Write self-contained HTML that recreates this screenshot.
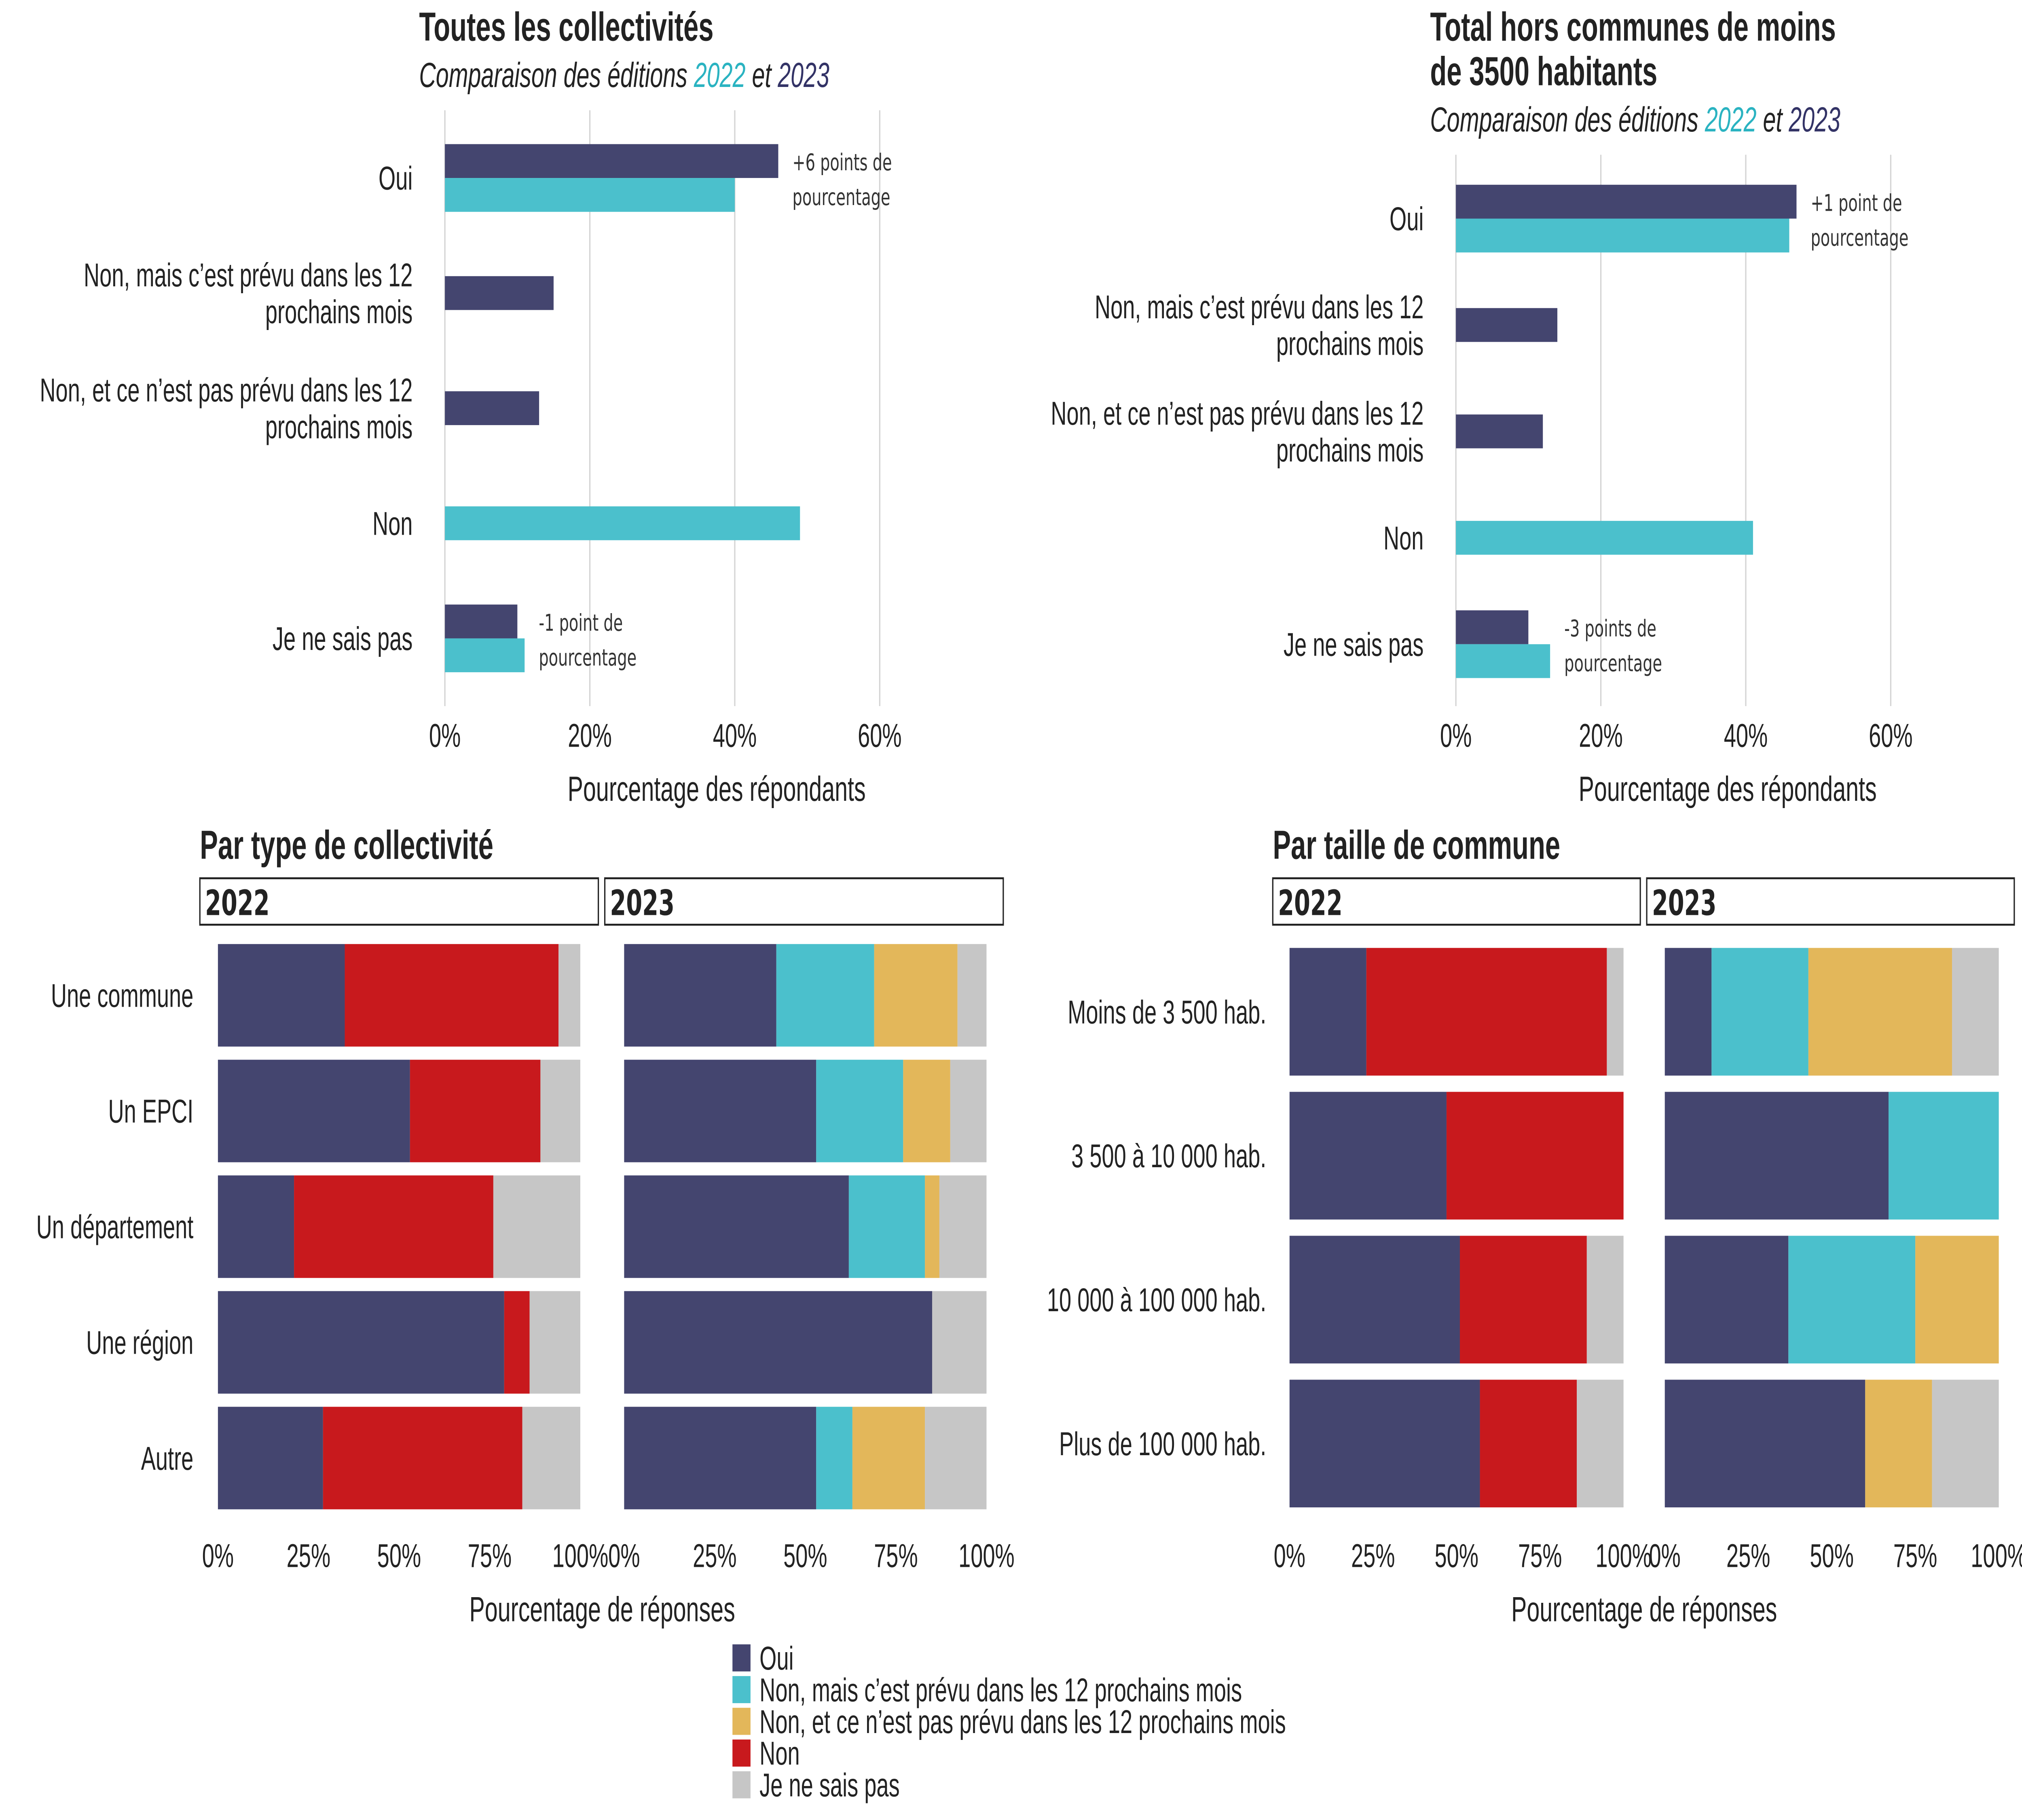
<!DOCTYPE html>
<html><head><meta charset="utf-8"><style>
html,body{margin:0;padding:0;background:#fff;width:100%;height:100%;overflow:hidden;}
svg{display:block;width:100vw;height:100vh;font-family:"Liberation Sans",sans-serif;}
</style></head><body>
<svg id="chart" viewBox="0 0 1568 940.8" preserveAspectRatio="none" xmlns="http://www.w3.org/2000/svg"></svg>
<script>
// ---------- DATA ----------
const dodgeCats = ["Oui", "Non, mais c\u2019est prévu dans les 12|prochains mois", "Non, et ce n\u2019est pas prévu dans les 12|prochains mois", "Non", "Je ne sais pas"];
const tl2023 = [46, 15, 13, null, 10];
const tl2022 = [40, null, null, 49, 11];
const tr2023 = [47, 14, 12, null, 10];
const tr2022 = [46, null, null, 41, 13];
const dodgeTicks = [0, 20, 40, 60];

const seriesNames = ["Oui", "Non, mais c\u2019est prévu dans les 12 prochains mois", "Non, et ce n\u2019est pas prévu dans les 12 prochains mois", "Non", "Je ne sais pas"];
const seriesColors = ["#44456f", "#4bc0cc", "#e3b75a", "#c8191d", "#c6c6c6"];

const typeCats = ["Une commune", "Un EPCI", "Un département", "Une région", "Autre"];
const type2022 = [[35,0,0,59,6],[53,0,0,36,11],[21,0,0,55,24],[79,0,0,7,14],[29,0,0,55,16]];
const type2023 = [[42,27,23,0,8],[53,24,13,0,10],[62,21,4,0,13],[85,0,0,0,15],[53,10,20,0,17]];

const sizeCats = ["Moins de 3 500 hab.", "3 500 à 10 000 hab.", "10 000 à 100 000 hab.", "Plus de 100 000 hab."];
const size2022 = [[23,0,0,72,5],[47,0,0,53,0],[51,0,0,38,11],[57,0,0,29,14]];
const size2023 = [[14,29,43,0,14],[67,33,0,0,0],[37,38,25,0,0],[60,0,20,0,20]];
const stackTicks = [0, 25, 50, 75, 100];

// ---------- HELPERS ----------
const NS = "http://www.w3.org/2000/svg";
const svg = document.getElementById("chart");
function mk(tag, attrs, parent) {
  const e = document.createElementNS(NS, tag);
  for (const k in attrs) e.setAttribute(k, attrs[k]);
  (parent || svg).appendChild(e);
  return e;
}
function txt(s, x, y, size, anchor, extra, parent) {
  const a = Object.assign({x: x, y: y, "font-size": size, "text-anchor": anchor || "start", fill: "#222"}, extra || {});
  const t = mk("text", a, parent);
  t.textContent = s;
  return t;
}

// ---------- DODGED CHART ----------
function dodgeChart(g, x0, firstC, step, gridTop, labelX, v23, v22, annots) {
  const sx = v => x0 + v * 5.62;
  const bh = 17.5;
  dodgeTicks.forEach(t => {
    const l = mk("line", {x1: sx(t), x2: sx(t), y1: gridTop, y2: 365, stroke: "#d4d4d4", "stroke-width": 1}, g);
    
    
    const tl = txt(t + "%", sx(t), 386, 17, "middle", {}, g);
    
    
  });
  const at = txt("Pourcentage des répondants", sx(37.5), 414, 18, "middle", {}, g);
  
  
  dodgeCats.forEach((c, i) => {
    const cy = firstC + i * step;
    const parts = c.split("|");
    parts.forEach((p, j) => {
      const yy = cy + 6 + (j - (parts.length - 1) / 2) * 19;
      const cl = txt(p, labelX, yy, 17, "end", {}, g);
      
      
    });
    const both = v23[i] != null && v22[i] != null;
    if (v23[i] != null) {
      const y = both ? cy - bh : cy - bh / 2;
      const r = mk("rect", {x: x0, y: y, width: sx(v23[i]) - x0, height: bh, fill: "#44456f"}, g);
      
      
    }
    if (v22[i] != null) {
      const y = both ? cy : cy - bh / 2;
      const r = mk("rect", {x: x0, y: y, width: sx(v22[i]) - x0, height: bh, fill: "#4bc0cc"}, g);
      
      
    }
  });
  annots.forEach(a => {
    const i = a[0];
    const cy = firstC + i * step;
    const vmax = Math.max(v23[i] || 0, v22[i] || 0);
    const ax = sx(vmax) + 11;
    const t1 = txt(a[1], ax, cy - 4, 12, "start", {"font-family": "DejaVu Sans, sans-serif", fill: "#333"}, g);
    
    
    const t2 = txt("pourcentage", ax, cy + 14, 12, "start", {"font-family": "DejaVu Sans, sans-serif", fill: "#333"}, g);
    
    
  });
}

function title(lines, x, y) {
  lines.forEach((l, i) => {
    const t = txt(l, x, y + i * 23, 21, "start", {"font-weight": "bold"});
    
    
  });
}
function subtitle(x, y) {
  const t = mk("text", {x: x, y: y, "font-size": 18, "font-style": "italic", fill: "#222"});
  
  
  t.innerHTML = 'Comparaison des éditions <tspan fill="#2ab3c1">2022</tspan> et <tspan fill="#333366">2023</tspan>';
}
title(["Toutes les collectivités"], 325, 21);
subtitle(325, 45);
title(["Total hors communes de moins", "de 3500 habitants"], 1109, 21);
subtitle(1109, 68);

const gTL = mk("g", {});


dodgeChart(gTL, 345, 92, 59.5, 57, 320, tl2023, tl2022, [[0, "+6 points de"], [4, "-1 point de"]]);
const gTR = mk("g", {});


dodgeChart(gTR, 1129, 113, 55, 80, 1104, tr2023, tr2022, [[0, "+1 point de"], [4, "-3 points de"]]);

// ---------- STACKED CHARTS ----------
function stackPanel(g, px, pw, stripX, stripW, yearLbl, cats, data, top, step, bh) {
  const sx = v => px + v / 100 * pw;
  const s = mk("rect", {x: stripX, y: 454, width: stripW, height: 24, fill: "#fff", stroke: "#222", "stroke-width": 1}, g);
  
  
  const st = txt(yearLbl, stripX + 4, 473, 18, "start", {"font-weight": "bold", "font-family": "DejaVu Sans, sans-serif"}, g);
  
  
  cats.forEach((c, i) => {
    let acc = 0;
    data[i].forEach((v, k) => {
      if (v > 0) {
        const r = mk("rect", {x: sx(acc), y: top + i * step, width: sx(acc + v) - sx(acc), height: bh, fill: seriesColors[k]}, g);
        
        
      }
      acc += v;
    });
  });
  stackTicks.forEach(t => {
    const tl = txt(t + "%", sx(t), 810, 17, "middle", {}, g);
    
    
  });
}
function stackChart(name, titleS, titleX, labelX, cats, d22, d23, p1, p2, pw, s1, s2, sw, top, step, bh) {
  const g = mk("g", {});
  
  
  const t = txt(titleS, titleX, 444, 21, "start", {"font-weight": "bold"}, g);
  
  
  cats.forEach((c, i) => {
    const l = txt(c, labelX, top + i * step + bh / 2 + 6, 17, "end", {}, g);
    
    
  });
  stackPanel(g, p1, pw, s1, sw, "2022", cats, d22, top, step, bh);
  stackPanel(g, p2, pw, s2, sw, "2023", cats, d23, top, step, bh);
  const at = txt("Pourcentage de réponses", (p1 + p2 + pw) / 2, 838, 18, "middle", {}, g);
  
  
}
stackChart("chart-by-type", "Par type de collectivité", 155, 150, typeCats, type2022, type2023, 169, 484, 281, 155, 469, 309, 488, 59.8, 53);
stackChart("chart-by-size", "Par taille de commune", 987, 982, sizeCats, size2022, size2023, 1000, 1291, 259, 987, 1277, 285, 490, 74.4, 66);

// ---------- LEGEND ----------
const lg = mk("g", {});


seriesNames.forEach((n, i) => {
  const y = 850 + i * 16.4;
  const r = mk("rect", {x: 568, y: y, width: 14, height: 14, fill: seriesColors[i]}, lg);
  
  
  const t = txt(n, 589, y + 13, 17, "start", {}, lg);
  
  
});
</script>
</body></html>
